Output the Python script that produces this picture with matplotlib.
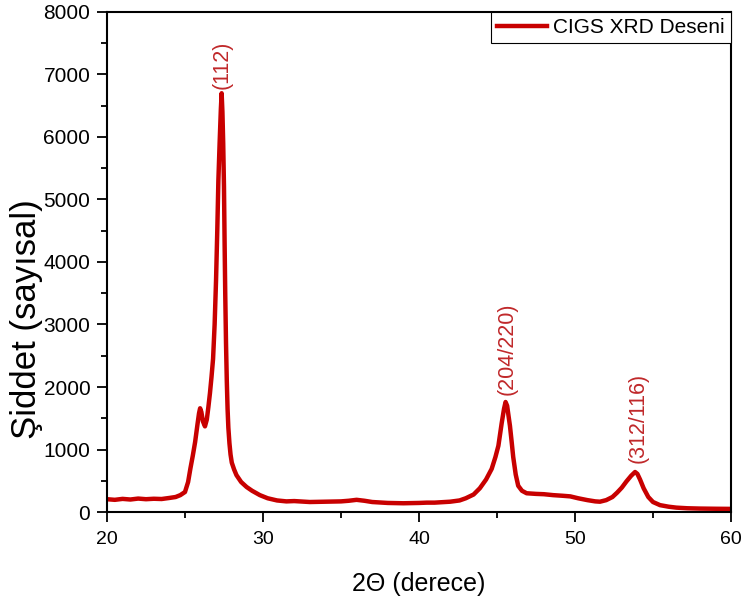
import matplotlib
matplotlib.use("Agg")
import matplotlib.pyplot as plt
from matplotlib.ticker import MultipleLocator
from matplotlib import font_manager

# XRD-Daten
two_theta = [
    20.0, 20.5, 21.0, 21.5, 22.0, 22.5, 23.0, 23.5, 24.0, 24.4,
    24.7, 25.0, 25.2, 25.35, 25.5, 25.65, 25.8, 25.9, 25.97, 26.05,
    26.15, 26.28, 26.4, 26.5, 26.6, 26.7, 26.8, 26.9, 26.99, 27.07,
    27.14, 27.22, 27.3, 27.35, 27.4, 27.45, 27.5, 27.54, 27.58, 27.63,
    27.68, 27.73, 27.78, 27.85, 27.92, 28.0, 28.15, 28.3, 28.6, 28.95,
    29.3, 29.8, 30.3, 30.9, 31.5, 32.0, 33.0, 34.0, 35.0, 35.5,
    36.0, 36.5, 37.0, 38.0, 39.0, 40.0, 40.5, 41.0, 42.0, 42.6,
    43.0, 43.5, 43.9, 44.3, 44.66, 44.9, 45.09, 45.3, 45.45, 45.55,
    45.65, 45.75, 45.83, 45.95, 46.04, 46.2, 46.36, 46.6, 46.9, 47.5,
    48.0, 48.6, 49.2, 49.7, 50.2, 50.8, 51.3, 51.6, 52.0, 52.4,
    52.7, 53.0, 53.3, 53.6, 53.85, 54.0, 54.17, 54.4, 54.7, 55.0,
    55.45, 56.0, 56.5, 57.2, 58.0, 59.0, 60.0,
]
intensity = [
    205, 195, 210, 200, 215, 205, 212, 208, 225, 240,
    270, 320, 480, 700, 900, 1120, 1400, 1580, 1660, 1600,
    1450, 1370, 1480, 1680, 1900, 2160, 2450, 3000, 3700, 4500,
    5300, 5900, 6450, 6700, 6400, 5900, 5200, 4300, 3500, 2700,
    2100, 1650, 1350, 1100, 920, 790, 680, 590, 480, 400,
    340, 270, 220, 185, 170, 175, 160, 165, 170, 180,
    195, 180, 160, 145, 140, 145, 150, 150, 165, 185,
    220, 280, 380, 520, 690, 880, 1060, 1420, 1650, 1760,
    1700, 1520, 1380, 1100, 880, 600, 420, 340, 300, 290,
    285, 270, 260, 250, 220, 190, 170, 165, 190, 240,
    310, 390, 490, 580, 640, 610, 520, 380, 240, 160,
    110, 85, 70, 60, 55, 52, 50,
]

# Reflexe (hkl) mit Position
peak_labels = ["(112)", "(204/220)", "(312/116)"]
peak_pos = [27.37, 45.62, 54.04]
peak_height = [6760, 1870, 790]

installed = {f.name for f in font_manager.fontManager.ttflist}
regular = "Liberation Sans" if "Liberation Sans" in installed else "DejaVu Sans"

line_color = "#c80000"
text_color = "#c0282a"

fig = plt.figure(figsize=(7.45, 6.05), dpi=100)
ax = fig.add_axes([0.1436, 0.1537, 0.8376, 0.8265])

ax.plot(two_theta, intensity, color=line_color, linewidth=3.2, label="CIGS XRD Deseni")

for lab, xp, yp in zip(peak_labels, peak_pos, peak_height):
    ax.text(xp, yp, lab, rotation=90, ha="center", va="bottom",
            color=text_color, fontsize=15.5, family=regular)

ax.set_xlim(20, 60)
ax.set_ylim(0, 8000)
ax.xaxis.set_major_locator(MultipleLocator(10))
ax.xaxis.set_minor_locator(MultipleLocator(5))
ax.yaxis.set_major_locator(MultipleLocator(1000))
ax.yaxis.set_minor_locator(MultipleLocator(500))

ax.tick_params(which="major", direction="out", length=7, width=1.3)
ax.tick_params(which="minor", direction="out", length=4, width=1.3)
ax.tick_params(axis="x", pad=7)
ax.tick_params(axis="y", pad=5)
for lbl in ax.get_xticklabels():
    lbl.set_fontfamily(regular)
    lbl.set_fontsize(14)
for lbl in ax.get_yticklabels():
    lbl.set_fontfamily(regular)
    lbl.set_fontsize(15)
for sp in ax.spines.values():
    sp.set_linewidth(1.5)

ax.set_xlabel("2\u0398 (derece)", fontsize=18, family=regular, labelpad=17)
ax.set_ylabel("Şiddet (sayısal)", fontsize=25, family=regular)
ax.yaxis.set_label_coords(-0.103, 0.385)

leg = ax.legend(loc="upper right", borderaxespad=0, fancybox=False,
                framealpha=1, edgecolor="black", handlelength=2.4,
                handletextpad=0.3, borderpad=0.3,
                prop={"family": regular, "size": 15})
leg.get_frame().set_linewidth(0.8)

fig.savefig("out.png", dpi=100)
